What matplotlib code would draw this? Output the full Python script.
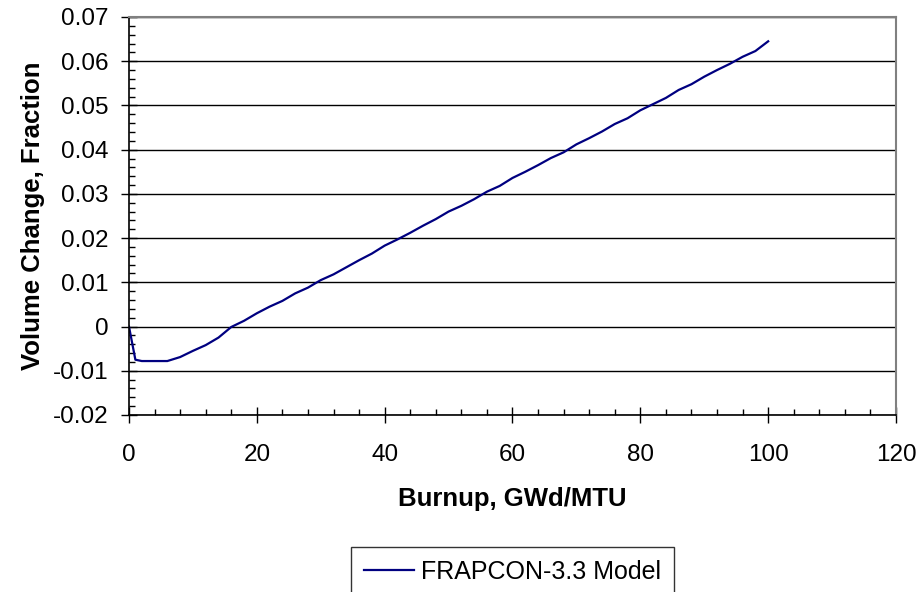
import matplotlib

matplotlib.use("Agg")
import matplotlib.pyplot as plt
from matplotlib.ticker import MultipleLocator

plt.rcParams["font.family"] = ["Liberation Sans", "DejaVu Sans"]

# FRAPCON-3.3 fuel swelling/densification model, volume change vs burnup
burnup = [0, 1, 2, 4, 6, 8, 10, 12, 14, 16, 18, 20, 22, 24, 26, 28, 30, 32,
          34, 36, 38, 40, 42, 44, 46, 48, 50, 52, 54, 56, 58, 60, 62, 64, 66,
          68, 70, 72, 74, 76, 78, 80, 82, 84, 86, 88, 90, 92, 94, 96, 98, 100]
volume_change = [0.0, -0.0075, -0.0078, -0.0078, -0.0078, -0.0069, -0.0055,
                 -0.0042, -0.0025, -0.0001, 0.0013, 0.0030, 0.0045, 0.0058,
                 0.0075, 0.0088, 0.0105, 0.0118, 0.0134, 0.0150, 0.0165,
                 0.0183, 0.0197, 0.0212, 0.0228, 0.0243, 0.0260, 0.0273,
                 0.0288, 0.0305, 0.0318, 0.0336, 0.0350, 0.0365, 0.0381,
                 0.0394, 0.0412, 0.0426, 0.0441, 0.0458, 0.0471, 0.0489,
                 0.0503, 0.0517, 0.0535, 0.0548, 0.0565, 0.0580, 0.0594,
                 0.0610, 0.0623, 0.0645]
series_label = "FRAPCON-3.3 Model"

fig = plt.figure(figsize=(9.22, 5.92), dpi=100)
ax = fig.add_axes([0.1399, 0.2990, 0.8319, 0.6723])

ax.plot(burnup, volume_change, color="#000080", linewidth=1.6, label=series_label)

ax.set_xlim(0, 120)
ax.set_ylim(-0.02, 0.07)
ax.xaxis.set_major_locator(MultipleLocator(20))
ax.xaxis.set_minor_locator(MultipleLocator(4))
ax.yaxis.set_major_locator(MultipleLocator(0.01))
ax.yaxis.set_minor_locator(MultipleLocator(0.002))
ax.set_yticks(ax.get_yticks())
ax.set_yticklabels([f"{v:.2f}".rstrip("0").rstrip(".") if abs(v) > 1e-9 else "0"
                    for v in ax.get_yticks()])
ax.set_ylim(-0.02, 0.07)

ax.grid(True, which="major", axis="y", color="black", linewidth=1.0)
ax.tick_params(which="major", direction="inout", length=11.5, width=1.0,
               labelsize=17.5)
ax.tick_params(axis="x", which="major", pad=15)
ax.tick_params(axis="y", which="major", pad=9)
ax.tick_params(which="minor", direction="in", length=4.3, width=1.0)

for side in ("left", "bottom"):
    ax.spines[side].set_color("black")
    ax.spines[side].set_linewidth(1.2)
for side in ("top", "right"):
    ax.spines[side].set_color("#808080")
    ax.spines[side].set_linewidth(1.5)

ax.set_xlabel("Burnup, GWd/MTU", fontsize=18.5, fontweight="bold", labelpad=15)
ax.set_ylabel("Volume Change, Fraction", fontsize=18.5, fontweight="bold", labelpad=6)

leg = fig.legend(loc="upper center", bbox_to_anchor=(0.556, 0.076), fontsize=18,
                 frameon=True, fancybox=False, edgecolor="black",
                 handlelength=2.0, handletextpad=0.3, borderpad=0.5,
                 borderaxespad=0)
leg.get_frame().set_linewidth(1.0)

fig.savefig("out.png", dpi=100)
